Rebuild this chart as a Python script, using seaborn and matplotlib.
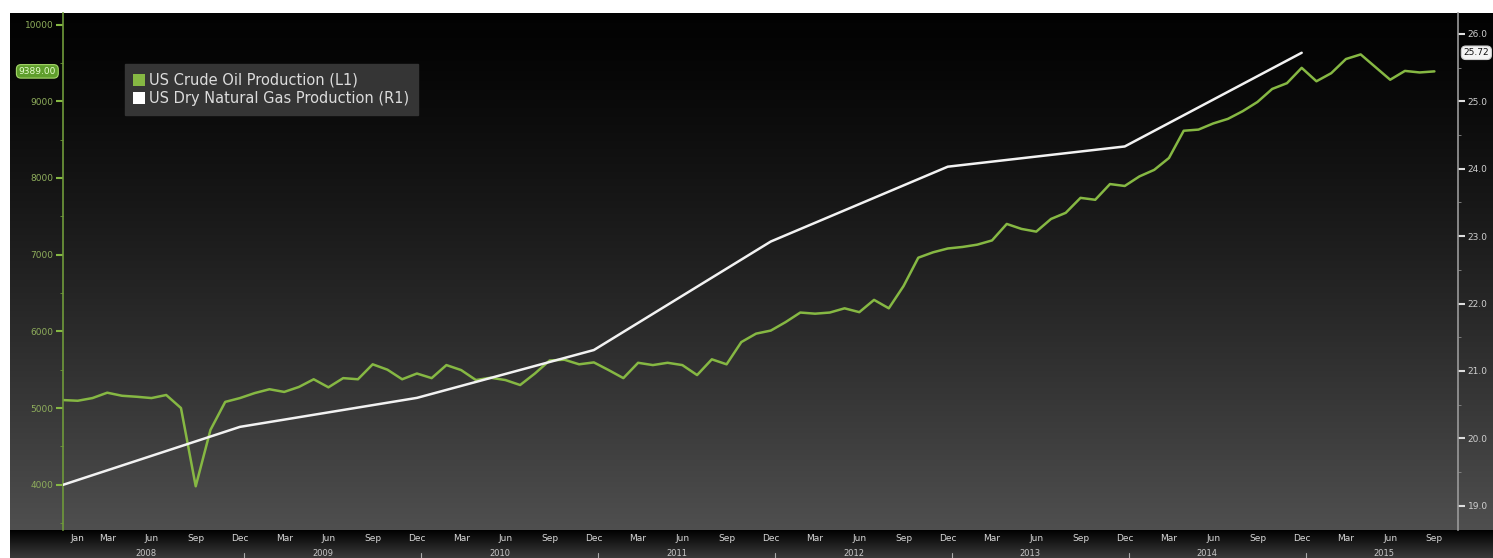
import numpy as np
import pandas as pd
import seaborn as sns
import matplotlib.pyplot as plt
from matplotlib.patches import Patch
from matplotlib.ticker import MultipleLocator, FixedLocator
import matplotlib.transforms as mtransforms

sns.set_style('dark')
plt.rcParams['font.family'] = ['DejaVu Sans']

# monthly data, Dec 2007 .. Sep 2015
months = pd.date_range('2007-12-01', '2015-09-01', freq='MS')
oil = [5104, 5095, 5130, 5200, 5160, 5147, 5130, 5170, 5000, 3980, 4715, 5080,
       5130, 5195, 5245, 5210, 5275, 5375, 5270, 5390, 5375, 5570, 5500, 5375,
       5450, 5390, 5560, 5495, 5365, 5395, 5365, 5300, 5450, 5620, 5630, 5570,
       5595, 5495, 5390, 5590, 5560, 5590, 5560, 5430, 5635, 5570, 5860, 5970,
       6010, 6120, 6245, 6230, 6245, 6300, 6250, 6410, 6300, 6590, 6960, 7030,
       7080, 7100, 7130, 7185, 7400, 7335, 7300, 7465, 7545, 7740, 7715, 7920,
       7895, 8020, 8105, 8260, 8615, 8630, 8710, 8770, 8870, 8990, 9160, 9235,
       9435, 9260, 9365, 9550, 9610, 9445, 9280, 9395, 9375, 9389]

# annual gas points (December of each year)
gas_dates = ['2007-12-01', '2008-12-01', '2009-12-01', '2010-12-01',
             '2011-12-01', '2012-12-01', '2013-12-01', '2014-12-01']
gas = [19.31, 20.17, 20.60, 21.31, 22.92, 24.03, 24.33, 25.72]

years = [2008, 2009, 2010, 2011, 2012, 2013, 2014, 2015]
oil_label = '9389.00'
gas_label = '25.72'

df_oil = pd.DataFrame({'m': np.arange(len(months)), 'oil': oil})
gas_idx = [months.get_loc(pd.Timestamp(d)) for d in gas_dates]
df_gas = pd.DataFrame({'m': gas_idx, 'gas': gas})

GREEN = '#86b843'
W, H = 1493, 558
fig = plt.figure(figsize=(W / 100, H / 100), dpi=100, facecolor='white')

# background: dark gradient panel
bg = fig.add_axes([10 / W, 0, 1 - 10 / W, 545 / H])
bg.set_axis_off()
rows = np.linspace(0, 1, 545)
grad = np.zeros((545, 1, 3))
split = 517 / 545
for k, t in enumerate(rows):
    if t < split:
        v = 0.01 + 0.30 * (t / split) ** 1.3
    else:
        v = 0.0 + 0.22 * ((t - split) / (1 - split))
    grad[k, 0, :] = v
bg.imshow(grad, extent=[0, 1, 0, 1], aspect='auto', interpolation='bilinear')
bg.set_xlim(0, 1)
bg.set_ylim(0, 1)

ax = fig.add_axes([63 / W, 28 / H, (1458 - 63) / W, 517 / H])
ax.set_facecolor('none')
sns.lineplot(data=df_oil, x='m', y='oil', ax=ax, color=GREEN, lw=1.8, legend=False)
ax2 = ax.twinx()
sns.lineplot(data=df_gas, x='m', y='gas', ax=ax2, color='#f2f2f2', lw=1.8, legend=False)

ax.set_xlim(0, 94.6)
for a in (ax, ax2):
    a.set_xlabel('')
    a.set_ylabel('')
    a.grid(False)
    for s in a.spines.values():
        s.set_visible(False)

ax.spines['left'].set_visible(True)
ax.spines['left'].set_color('#6f9a3a')
ax.spines['left'].set_linewidth(1.2)
ax2.spines['right'].set_visible(True)
ax2.spines['right'].set_color('#9a9a9a')
ax2.spines['right'].set_linewidth(1.2)

ax.set_yticks(range(4000, 10001, 1000))
ax.yaxis.set_minor_locator(MultipleLocator(500))
ax.set_ylim(3410, 10150)
ax.tick_params(axis='y', which='major', colors=GREEN, labelcolor='#8fae5c',
               labelsize=6.5, length=5, width=1.5, direction='out', pad=2)
ax.tick_params(axis='y', which='minor', colors='#6f9a3a', length=2, direction='out')

ax2.set_yticks(np.arange(19, 26.01, 1.0))
ax2.set_yticklabels([f'{v:.1f}' for v in np.arange(19, 26.01, 1.0)])
ax2.yaxis.set_minor_locator(MultipleLocator(0.5))
ax2.set_ylim(18.64, 26.31)
ax2.tick_params(axis='y', which='major', colors='#dddddd', labelcolor='#d0d0d0',
                labelsize=6.5, length=5, width=1.5, direction='out', pad=2)
ax2.tick_params(axis='y', which='minor', colors='#888888', length=2, direction='out')

# x axis: month labels and year row
tick_pos, tick_lab = [], []
for i, m in enumerate(months):
    if m.year < 2008:
        continue
    if m.month in (3, 6, 9, 12) or (m.year == 2008 and m.month == 1):
        tick_pos.append(i)
        tick_lab.append(m.strftime('%b'))
ax.set_xticks(tick_pos)
ax.set_xticklabels(tick_lab)
ax.xaxis.set_minor_locator(FixedLocator(np.arange(len(months))))
ax.tick_params(axis='x', which='major', colors='#cfcfcf', labelcolor='#d8d8d8',
               labelsize=6.5, length=4, width=1, direction='in', pad=3)
ax.tick_params(axis='x', which='minor', colors='#bbbbbb', length=2.5, width=0.8,
               direction='in')
ax2.tick_params(axis='x', which='both', length=0, labelbottom=False)

trans = mtransforms.blended_transform_factory(ax.transData, ax.transAxes)
for yr in years:
    x_mid = months.get_loc(pd.Timestamp(f'{yr}-06-01'))
    ax.text(x_mid - 0.4, -0.037, str(yr), transform=trans, ha='center', va='top',
            fontsize=6, color='#c8c8c8', clip_on=False)
    if yr < years[-1]:
        x_sep = months.get_loc(pd.Timestamp(f'{yr}-12-01')) + 0.3
        ax.plot([x_sep, x_sep], [-0.045, -0.062], transform=trans, color='#aaaaaa',
                lw=0.8, clip_on=False)

# last value boxes
ax.text(-0.005, oil[-1], oil_label, transform=ax.get_yaxis_transform(),
        ha='right', va='center', fontsize=6.5, color='#e8ffd0', clip_on=False,
        bbox=dict(boxstyle='round,pad=0.25,rounding_size=0.5', fc='#5f9e2c',
                  ec='#a6d86a', lw=0.8))
ax2.text(1.004, gas[-1], gas_label, transform=ax2.get_yaxis_transform(),
         ha='left', va='center', fontsize=6.5, color='#111111', clip_on=False,
         bbox=dict(boxstyle='round,pad=0.25,rounding_size=0.5', fc='#f4f4f4',
                   ec='#cccccc', lw=0.8))

handles = [Patch(facecolor=GREEN, edgecolor='none', label='US Crude Oil Production (L1)'),
           Patch(facecolor='white', edgecolor='none', label='US Dry Natural Gas Production (R1)')]
leg = ax2.legend(handles=handles, loc='upper left', bbox_to_anchor=(0.039, 0.915),
                 frameon=True, fontsize=10.5, handlelength=0.8, handleheight=0.9,
                 handletextpad=0.3, labelspacing=0.2, borderpad=0.6, fancybox=False)
leg.get_frame().set_facecolor('#353535')
leg.get_frame().set_edgecolor('#353535')
leg.get_frame().set_alpha(1)
for t in leg.get_texts():
    t.set_color('#dcdcdc')

fig.savefig('out.png', dpi=100, facecolor='white')
